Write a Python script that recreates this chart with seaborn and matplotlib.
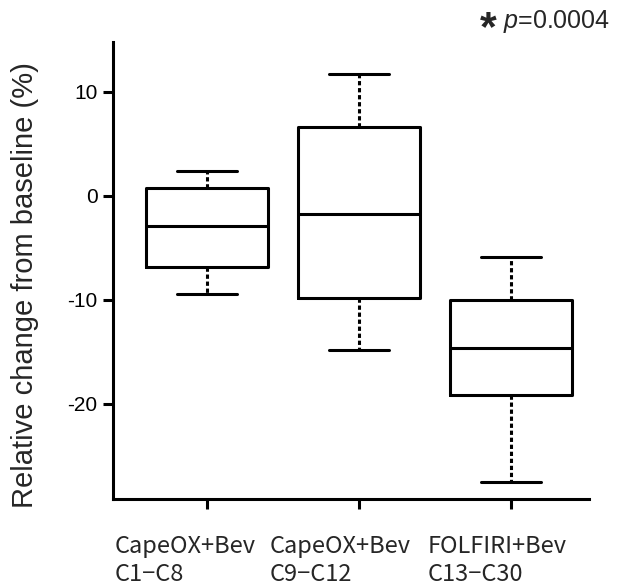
import numpy as np
import pandas as pd
import seaborn as sns
import matplotlib
matplotlib.use("Agg")
import matplotlib.pyplot as plt
import matplotlib.transforms as mtransforms

# groups (x categories)
groups = ["CapeOX+Bev\nC1\u2212C8", "CapeOX+Bev\nC9\u2212C12", "FOLFIRI+Bev\nC13\u2212C30"]
# five-number summaries: min, Q1, median, Q3, max
g1 = [-9.45, -6.86, -2.91, 0.74, 2.38]
g2 = [-14.84, -9.84, -1.76, 6.61, 11.7]
g3 = [-27.53, -19.16, -14.64, -10.03, -5.89]
yticks = [-20, -10, 0, 10]
ylabel = "Relative change from baseline (%)"
p_value = "0.0004"

df = pd.DataFrame({
    "group": np.repeat(groups, 5),
    "change": g1 + g2 + g3,
})

sns.set_style("ticks", {"axes.edgecolor": "black"})
plt.rcParams["font.family"] = ["Liberation Sans", "DejaVu Sans"]
plt.rcParams["axes.unicode_minus"] = False
plt.rcParams["mathtext.fontset"] = "custom"
plt.rcParams["mathtext.rm"] = "Liberation Sans"
plt.rcParams["mathtext.it"] = "Liberation Sans:italic"

fig = plt.figure(figsize=(6.22, 5.85), dpi=100)
ax = fig.add_axes([0.1817, 0.147, 0.7653, 0.7817])

lw = 2.2
sns.boxplot(
    data=df, x="group", y="change", order=groups,
    whis=(0, 100), fill=False, color="black", width=0.8, linewidth=lw,
    whiskerprops={"linestyle": (0, (1.4, 0.9))},
    ax=ax,
)

ax.set_xlim(-0.618, 2.513)
ax.set_ylim(-29.16, 14.8)
sns.despine(ax=ax)
for s in ["left", "bottom"]:
    ax.spines[s].set_linewidth(lw)
    ax.spines[s].set_color("black")
ax.set_yticks(yticks)
ax.tick_params(width=lw, length=7, labelsize=15, pad=4, colors="black")
ax.set_xticklabels([])
ax.set_xlabel("")
ax.set_ylabel("")

# category labels, left aligned under each box
label_x = [-0.605, 0.414, 1.454]
trans = mtransforms.blended_transform_factory(ax.transData, ax.transAxes)
for x, g in zip(label_x, groups):
    ax.text(x, -0.078, g, transform=trans, ha="left", va="top",
            fontsize=17, linespacing=1.3,
            family=["Noto Sans CJK JP", "DejaVu Sans"])

fig.text(25 / 622, 1 - 285 / 585, ylabel, rotation=90, ha="center",
         va="center", fontsize=21)

fig.text(480 / 622, 1 - 9 / 585, "*", fontsize=31, fontweight="bold",
         ha="left", va="top")
fig.text(610 / 622, 1 - 28 / 585, r"$\mathit{p}$=" + p_value, fontsize=18,
         ha="right", va="baseline")

fig.savefig("out.png", dpi=100)
